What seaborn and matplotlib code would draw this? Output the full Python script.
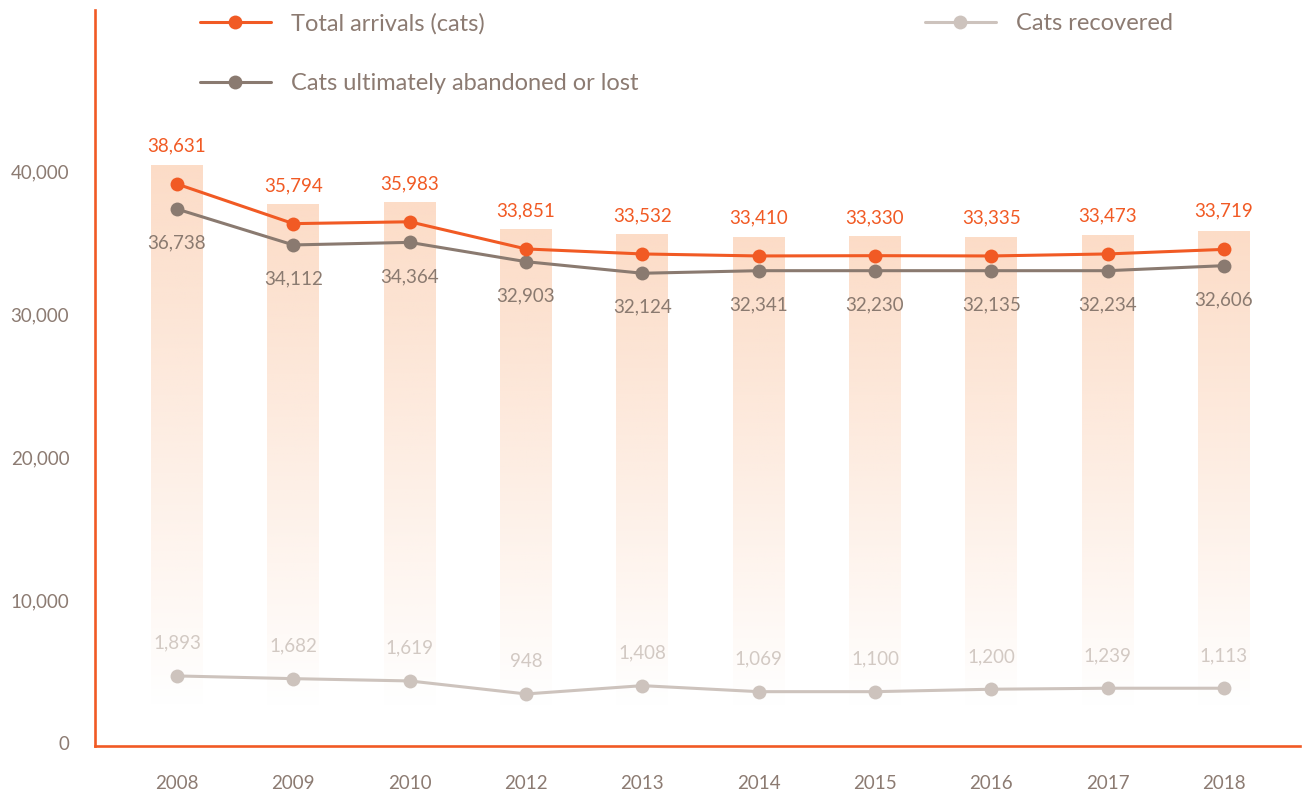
import numpy as np
import pandas as pd
import matplotlib
matplotlib.use("Agg")
import matplotlib.pyplot as plt
import seaborn as sns
from matplotlib.lines import Line2D

# values
years = ["2008", "2009", "2010", "2012", "2013", "2014", "2015", "2016", "2017", "2018"]

# printed labels
total_labels = [38631, 35794, 35983, 33851, 33532, 33410, 33330, 33335, 33473, 33719]
abandoned_labels = [36738, 34112, 34364, 32903, 32124, 32341, 32230, 32135, 32234, 32606]
recovered_labels = [1893, 1682, 1619, 948, 1408, 1069, 1100, 1200, 1239, 1113]

# heights of the marks as drawn on the axis
total_y = [39090, 36320, 36450, 34550, 34200, 34060, 34080, 34060, 34200, 34520]
abandoned_y = [37340, 34830, 35010, 33660, 32850, 33030, 33030, 33030, 33030, 33380]
recovered_y = [4690, 4500, 4340, 3430, 4010, 3590, 3590, 3760, 3830, 3830]
bar_tops = [40420, 37690, 37830, 35940, 35590, 35390, 35450, 35390, 35520, 35800]
bar_fade_to = 2500

ORANGE = "#f15a24"
TAUPE = "#8a7a70"
LIGHT = "#cdc3bd"
LIGHT_TXT = "#d2c9c3"
PEACH = "#fcdcc7"
TXT = "#8c7b72"

sns.set_style("white")
plt.rcParams["font.family"] = ["Lato", "DejaVu Sans"]

df = pd.DataFrame({
    "year": years,
    "pos": np.arange(len(years)),
    "bar": bar_tops,
    "total": total_y,
    "abandoned": abandoned_y,
    "recovered": recovered_y,
})

fig = plt.figure(figsize=(13.03, 7.98), dpi=100)
ax = fig.add_axes([95 / 1303, 52 / 798, 1205 / 1303, 736 / 798])

sns.barplot(data=df, x="year", y="bar", color=PEACH, width=0.445, ax=ax)

# gradient fill for each bar: solid at the top, fading out near the bottom
rgb = matplotlib.colors.to_rgb(PEACH)
for patch in ax.patches:
    x0 = patch.get_x()
    w = patch.get_width()
    top = patch.get_height()
    n = 256
    v = np.linspace(0, top, n)[:, None]
    alpha = np.clip((v - bar_fade_to) / (top - bar_fade_to), 0, 1)
    img = np.zeros((n, 1, 4))
    img[..., 0], img[..., 1], img[..., 2] = rgb
    img[..., 3] = alpha
    im = ax.imshow(img, extent=[x0, x0 + w, 0, top], origin="lower",
                   aspect="auto", zorder=1)
    im.set_clip_path(patch)
    patch.set_facecolor("none")
    patch.set_edgecolor("none")

sns.lineplot(data=df, x="pos", y="recovered", color=LIGHT, lw=2.2, marker="o",
             markersize=10, markeredgewidth=0, ax=ax, zorder=3)
sns.lineplot(data=df, x="pos", y="abandoned", color=TAUPE, lw=2.2, marker="o",
             markersize=10, markeredgewidth=0, ax=ax, zorder=4)
sns.lineplot(data=df, x="pos", y="total", color=ORANGE, lw=2.2, marker="o",
             markersize=10, markeredgewidth=0, ax=ax, zorder=5)

fs = 13.5
for i in range(len(years)):
    ax.annotate(f"{total_labels[i]:,}", (i, total_y[i]), xytext=(0, 27.5),
                textcoords="offset points", ha="center", va="center",
                color=ORANGE, fontsize=fs)
    ax.annotate(f"{abandoned_labels[i]:,}", (i, abandoned_y[i]), xytext=(0, -24.5),
                textcoords="offset points", ha="center", va="center",
                color=TAUPE, fontsize=fs)
    ax.annotate(f"{recovered_labels[i]:,}", (i, recovered_y[i]), xytext=(0, 23.5),
                textcoords="offset points", ha="center", va="center",
                color=LIGHT_TXT, fontsize=fs)

ax.set_xlim(-0.705, 9.654)
ax.set_ylim(-210, 51260)
ax.set_yticks([0, 10000, 20000, 30000, 40000])
ax.set_yticklabels(["0", "10,000", "20,000", "30,000", "40,000"])
ax.set_xticks(range(len(years)))
ax.set_xticklabels(years)
ax.set_xlabel("")
ax.set_ylabel("")
ax.tick_params(axis="y", length=0, pad=18.5, labelsize=fs, labelcolor=TXT)
ax.tick_params(axis="x", length=0, pad=21, labelsize=fs, labelcolor=TXT)

for side in ["top", "right"]:
    ax.spines[side].set_visible(False)
for side in ["left", "bottom"]:
    ax.spines[side].set_color(ORANGE)
    ax.spines[side].set_linewidth(1.9)

def handle(c):
    return Line2D([], [], color=c, lw=2.2, marker="o", markersize=10,
                  markeredgewidth=0)

leg_kw = dict(frameon=False, fontsize=17, labelcolor=TXT, handlelength=3.0,
              handletextpad=0.85, borderpad=0, borderaxespad=0)
leg1 = fig.legend([handle(ORANGE), handle(TAUPE)],
                  ["Total arrivals (cats)", "Cats ultimately abandoned or lost"],
                  loc="upper left", bbox_to_anchor=(200 / 1303, 1 - 13 / 798),
                  labelspacing=1.65, **leg_kw)
leg2 = fig.legend([handle(LIGHT)], ["Cats recovered"],
                  loc="upper left", bbox_to_anchor=(925 / 1303, 1 - 13 / 798),
                  **leg_kw)

fig.savefig("out.png", dpi=100)
